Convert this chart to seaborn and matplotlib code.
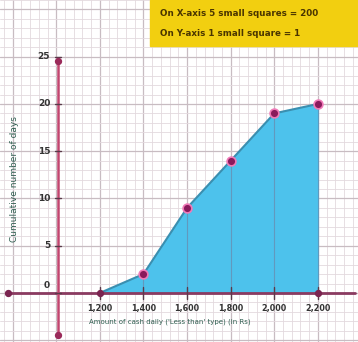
import matplotlib
matplotlib.use("Agg")
import matplotlib.pyplot as plt
import seaborn as sns
import pandas as pd
from matplotlib.ticker import MultipleLocator
from matplotlib.patches import Rectangle

# data
x_labels = ["1,200", "1,400", "1,600", "1,800", "2,000", "2,200"]
cum_freq = [0, 2, 9, 14, 19, 20]
y_ticks = [0, 5, 10, 15, 20, 25]
note_lines = ["On X-axis 5 small squares = 200", "On Y-axis 1 small square = 1"]
x_title = "Amount of cash daily ('Less than' type) (in Rs)"
y_title = "Cumulative number of days"

df = pd.DataFrame({"pos": range(len(x_labels)), "cf": cum_freq})

sns.set_style("white")
fig = plt.figure(figsize=(3.58, 3.42), dpi=100)
ax = fig.add_axes([0, 0, 1, 1])
ax.set_xlim(-2.29, 5.92)
ax.set_ylim(-5.19, 31.0)

# graph paper
ax.xaxis.set_major_locator(MultipleLocator(1))
ax.xaxis.set_minor_locator(MultipleLocator(0.2))
ax.yaxis.set_major_locator(MultipleLocator(5))
ax.yaxis.set_minor_locator(MultipleLocator(1))
ax.grid(which="minor", color="#e3d9de", lw=0.6)
ax.grid(which="major", color="#c8bcc2", lw=0.9)
ax.tick_params(which="both", length=0, labelbottom=False, labelleft=False)
for s in ax.spines.values():
    s.set_visible(False)

# shaded area under the ogive
ax.fill_between(df["pos"], 0, df["cf"], color="#4dc2ec", zorder=2)
sns.lineplot(data=df, x="pos", y="cf", color="#3a8fb0", lw=1.5, ax=ax, zorder=3)
ax.vlines(df["pos"], 0, df["cf"], color="#6f7fa0", lw=0.8, alpha=0.6, zorder=3)
sns.scatterplot(data=df.iloc[1:], x="pos", y="cf", color="#8a1a5c", s=40,
                edgecolor="#f07ab8", linewidth=1.2, ax=ax, zorder=5)

# axes lines
ox = -0.96
ax.plot([-2.1, 5.85], [0, 0], color="#8a3a60", lw=2, zorder=4)
ax.plot([ox, ox], [-4.5, 24.5], color="#c2456f", lw=1.8, zorder=4)
ax.scatter([-2.1, 0, 5], [0, 0, 0], color="#7a2450", s=18, zorder=6)
ax.scatter([ox, ox], [-4.5, 24.5], color="#9a2a5a", s=18, zorder=6)

for v in y_ticks:
    ax.plot([ox - 0.08, ox + 0.08], [v, v], color="#5a3a4a", lw=1, zorder=5)
    ax.text(ox - 0.18, v + (0.8 if v == 0 else 0), str(v), ha="right", va="center",
            fontsize=6.5, fontweight="bold", color="#333333", zorder=6)
for i, lab in enumerate(x_labels):
    ax.plot([i, i], [-0.6, 0.6], color="#5a3a4a", lw=1, zorder=5)
    ax.text(i, -1.6, lab, ha="center", va="center", fontsize=5.8,
            fontweight="bold", color="#333333", zorder=6)

ax.text(1.6, -3.1, x_title, ha="center", va="center", fontsize=5,
        color="#2f5e50", zorder=6)
ax.text(-1.95, 12, y_title, ha="center", va="center", rotation=90,
        fontsize=6.5, color="#2f5e50", zorder=6)

# note box
ax.add_patch(Rectangle((150 / 358, 1 - 46 / 342), 208 / 358, 46 / 342,
                       transform=ax.transAxes, color="#f2cf10", zorder=7))
for j, line in enumerate(note_lines):
    ax.text(160 / 358, 1 - (14 + 20 * j) / 342, line, transform=ax.transAxes,
            ha="left", va="center", fontsize=6.3, fontweight="bold",
            color="#4a3500", zorder=8)

ax.set_xlabel("")
ax.set_ylabel("")
fig.savefig("out.png", dpi=100)
